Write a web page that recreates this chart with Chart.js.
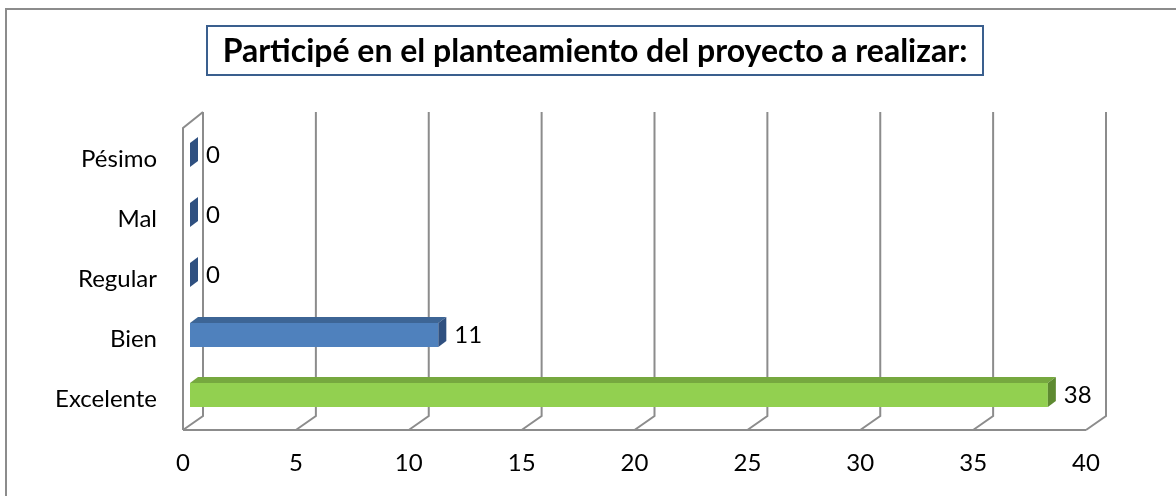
<!DOCTYPE html>
<html>
<head>
<meta charset="utf-8">
<script src="https://cdn.jsdelivr.net/npm/chart.js@4/dist/chart.umd.min.js"></script>
<style>
    html, body { margin: 0; padding: 0; background: #fff; }
    #wrap { position: relative; width: 1176px; height: 496px; }
</style>
</head>
<body>
<div id="wrap"><canvas id="chart" width="1176" height="496"></canvas></div>
<script>
const chartTitle = 'Participé en el planteamiento del proyecto a realizar:';
const categories = ['Pésimo', 'Mal', 'Regular', 'Bien', 'Excelente'];
const values = [0, 0, 0, 11, 38];
const xTicks = [0, 5, 10, 15, 20, 25, 30, 35, 40];

// bar colours: front / top / side
const frontColors = ['#4f81bd', '#4f81bd', '#4f81bd', '#4f81bd', '#92d050'];
const topColors = ['#3d6595', '#3d6595', '#3d6595', '#3d6595', '#76a83f'];
const sideColors = ['#2f5080', '#2f5080', '#2f5080', '#2f5080', '#5e8a31'];

const FONT = 'Lato, Calibri, Carlito, sans-serif';
const GRID = '#8c8c8c';

// 3d offsets
const barDepth = { dx: 8, dy: 6 };
const wallFront = -7;   // front plane shift from bar plane
const wallBack = { dx: 13, dy: 14 };

const backdrop = {
    id: 'backdrop',
    beforeDraw(chart) {
        const ctx = chart.ctx;
        ctx.save();
        ctx.fillStyle = '#fff';
        ctx.fillRect(0, 0, chart.width, chart.height);
        ctx.strokeStyle = '#8c8c8c';
        ctx.lineWidth = 2;
        ctx.strokeRect(6, 9, 1300, 700);

        // title in box
        ctx.font = 'bold 32px ' + FONT;
        ctx.fillStyle = '#000';
        ctx.textAlign = 'center';
        ctx.textBaseline = 'alphabetic';
        ctx.fillText(chartTitle, 595, 62);
        ctx.strokeStyle = '#3a5f8e';
        ctx.lineWidth = 2;
        ctx.strokeRect(207, 26, 776, 49);
        ctx.restore();
    },
    beforeDatasetsDraw(chart) {
        const ctx = chart.ctx;
        const x = chart.scales.x;
        const area = chart.chartArea;
        const bottom = area.bottom + 5;
        const top = 128;
        ctx.save();
        ctx.strokeStyle = GRID;
        ctx.lineWidth = 2;
        ctx.beginPath();
        xTicks.forEach(function(v) {
            const px = x.getPixelForValue(v);
            ctx.moveTo(px + wallBack.dx, top - wallBack.dy - 2);
            ctx.lineTo(px + wallBack.dx, bottom - wallBack.dy);
            ctx.lineTo(px + wallFront, bottom);
        });
        const x0 = x.getPixelForValue(0);
        const x40 = x.getPixelForValue(40);
        ctx.moveTo(x0 + wallFront, bottom);
        ctx.lineTo(x40 + wallFront, bottom);
        ctx.moveTo(x0 + wallFront, bottom);
        ctx.lineTo(x0 + wallFront, top);
        ctx.lineTo(x0 + wallBack.dx, top - wallBack.dy - 2);
        ctx.stroke();
        ctx.restore();
    },
    afterDatasetsDraw(chart) {
        const ctx = chart.ctx;
        const meta = chart.getDatasetMeta(0);
        ctx.save();
        meta.data.forEach(function(bar, i) {
            const p = bar.getProps(['x', 'y', 'base', 'height'], true);
            const t = p.y - p.height / 2;
            const b = p.y + p.height / 2;
            // top face
            ctx.fillStyle = topColors[i];
            ctx.beginPath();
            ctx.moveTo(p.base, t);
            ctx.lineTo(p.x, t);
            ctx.lineTo(p.x + barDepth.dx, t - barDepth.dy);
            ctx.lineTo(p.base + barDepth.dx, t - barDepth.dy);
            ctx.closePath();
            ctx.fill();
            // side face
            ctx.fillStyle = sideColors[i];
            ctx.beginPath();
            ctx.moveTo(p.x, t);
            ctx.lineTo(p.x + barDepth.dx, t - barDepth.dy);
            ctx.lineTo(p.x + barDepth.dx, b - barDepth.dy);
            ctx.lineTo(p.x, b);
            ctx.closePath();
            ctx.fill();
            // value label
            ctx.fillStyle = '#000';
            ctx.font = '24px ' + FONT;
            ctx.textAlign = 'left';
            ctx.textBaseline = 'middle';
            ctx.fillText(String(values[i]), p.x + 16, p.y);
        });
        ctx.restore();
    }
};

const ctx = document.getElementById('chart').getContext('2d');
const chart = new Chart(ctx, {
    type: 'bar',
    data: {
        labels: categories,
        datasets: [{
            data: values,
            backgroundColor: frontColors,
            borderWidth: 0,
            barPercentage: 0.4,
            categoryPercentage: 1.0
        }]
    },
    options: {
        indexAxis: 'y',
        responsive: false,
        animation: false,
        events: [],
        layout: { padding: { top: 125, right: 83, left: 0, bottom: 0 } },
        plugins: {
            legend: { display: false },
            title: { display: false },
            tooltip: { enabled: false }
        },
        scales: {
            x: {
                min: 0,
                max: 40,
                border: { display: false },
                grid: { display: false, drawTicks: false },
                ticks: {
                    stepSize: 5,
                    padding: 24,
                    labelOffset: -7,
                    color: '#000',
                    font: { family: FONT, size: 24 }
                },
                afterFit: function(scale) { scale.height = 71; }
            },
            y: {
                border: { display: false },
                grid: { display: false, drawTicks: false },
                ticks: {
                    padding: 33,
                    labelOffset: 4,
                    color: '#000',
                    font: { family: FONT, size: 24 }
                },
                afterFit: function(scale) { scale.width = 190; }
            }
        }
    },
    plugins: [backdrop]
});
</script>
</body>
</html>
